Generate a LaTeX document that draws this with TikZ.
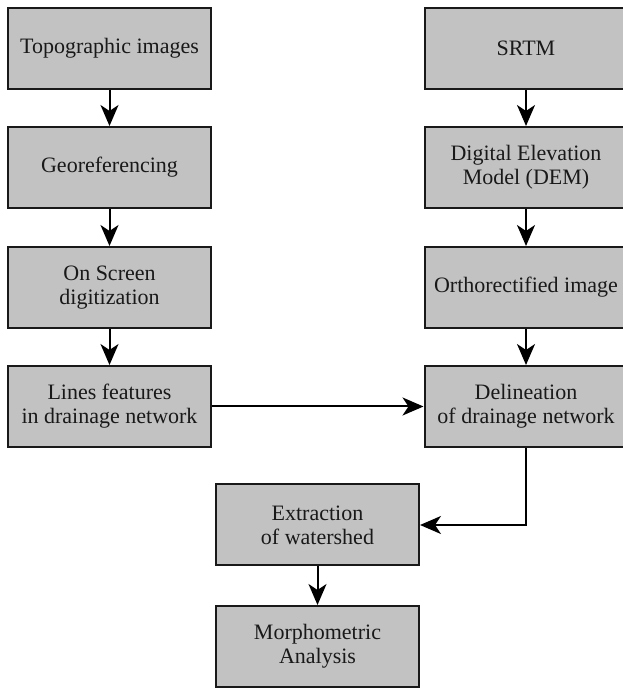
\documentclass[tikz,border=0pt]{standalone}
\usepackage{fontspec}
\setmainfont{Liberation Serif}
\usetikzlibrary{arrows.meta}
\definecolor{boxgray}{HTML}{C2C2C2}

\begin{document}
\begin{tikzpicture}[x=1pt,y=1pt,
	box/.style={draw=black!90, line width=2pt, fill=boxgray, minimum width=203pt, minimum height=81pt, inner sep=0pt, align=center, font=\fontsize{22}{24}\selectfont, text=black!90},
	arr/.style={-{Stealth[length=21pt,width=18pt,inset=6pt]}, line width=2pt}]

	\useasboundingbox (0,0) rectangle (623,688);

	% left column
	\node[box] (Topo) at (109.5,639.5) {Topographic images};
	\node[box] (Georef) at (109.5,520.5) {Georeferencing};
	\node[box] (Digit) at (109.5,400.5) {On Screen\\digitization};
	\node[box] (Lines) at (109.5,281.5) {Lines features\\in drainage network};

	% right column
	\node[box] (SRTM) at (526,639.5) {SRTM};
	\node[box] (DEM) at (526,520.5) {Digital Elevation\\Model (DEM)};
	\node[box] (Ortho) at (526,400.5) {Orthorectified image};
	\node[box] (Delin) at (526,281.5) {Delineation\\of drainage network};

	% bottom
	\node[box] (Extract) at (317.5,163) {Extraction\\of watershed};
	\node[box] (Morph) at (317.5,41.5) {Morphometric\\Analysis};

	\draw[arr] (Topo) -- (Georef);
	\draw[arr] (Georef) -- (Digit);
	\draw[arr] (Digit) -- (Lines);

	\draw[arr] (SRTM) -- (DEM);
	\draw[arr] (DEM) -- (Ortho);
	\draw[arr] (Ortho) -- (Delin);

	\draw[arr] (Lines) -- (Delin);
	\draw[arr] (Delin.south) |- (Extract.east);
	\draw[arr] (Extract) -- (Morph);

\end{tikzpicture}
\end{document}
